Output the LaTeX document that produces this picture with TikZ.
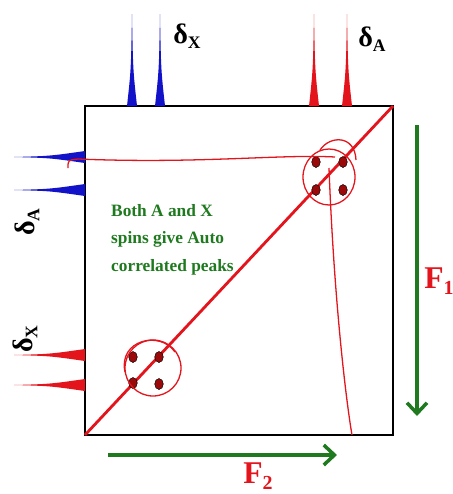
\documentclass[tikz,border=0pt]{standalone}
\usepackage{fontspec}
\setmainfont{Liberation Serif}
\usetikzlibrary{arrows.meta,positioning}
\definecolor{pkred}{HTML}{E3141C}
\definecolor{pkblue}{HTML}{1212C8}
\definecolor{pkgreen}{HTML}{1F7A1F}
\definecolor{dotred}{HTML}{9A0A0A}

\begin{document}
\begin{tikzpicture}[x=0.03cm,y=-0.03cm,
   frame/.style={line width=2.4pt,black},
   diag/.style={line width=2.4pt,pkred},
   sketch/.style={line width=1.1pt,pkred},
   lbl/.style={font=\bfseries\fontsize{24}{26}\selectfont,inner sep=0pt},
   flbl/.style={font=\bfseries\fontsize{27}{29}\selectfont,pkred,inner sep=0pt},
   note/.style={font=\bfseries\fontsize{14.8}{23.5}\selectfont,pkgreen,align=left,inner sep=0pt},
   ax/.style={-{Straight Barb[length=3.2mm,width=6mm,line width=3pt]},line width=3pt,pkgreen}]
  \useasboundingbox (0,0) rectangle (453,494);

  % spectrum box and diagonal
  \coordinate (tl) at (85,106);
  \coordinate (br) at (393,435);
  \coordinate (bl) at (85,435);
  \coordinate (tr) at (393,106);
  \draw[frame] (tl) rectangle (br);
  \draw[diag] (bl) -- (tr);

  % top 1D spectrum
  \foreach \x/\c in {132/pkblue,160/pkblue,314/pkred,347/pkred}
    \fill[\c] (\x-5,106) .. controls (\x-1,70) .. (\x,14) .. controls (\x+1,70) .. (\x+5,106) -- cycle;
  % left 1D spectrum
  \foreach \y/\c in {157/pkblue,190/pkblue,355/pkred,385/pkred}
    \fill[\c] (85,\y-6) .. controls (50,\y-1) .. (14,\y) .. controls (50,\y+1) .. (85,\y+6) -- cycle;

  \node[lbl] (dXtop) at (187,36) {δ\raisebox{-0.4ex}{\fontsize{15}{15}\selectfont X}};
  \node[lbl] (dAtop) at (372,39) {δ\raisebox{-0.4ex}{\fontsize{15}{15}\selectfont A}};
  \node[lbl,rotate=90] (dAleft) at (27,222) {δ\raisebox{-0.4ex}{\fontsize{15}{15}\selectfont A}};
  \node[lbl,rotate=90] (dXleft) at (25,339) {δ\raisebox{-0.4ex}{\fontsize{15}{15}\selectfont X}};

  % auto peaks
  \foreach \x/\y in {133/357,159/357,133/383,159/384,316/162,343/162,316/190,343/190}
    \filldraw[fill=dotred,draw=black,line width=0.4pt] (\x,\y) ellipse (4.3 and 5.5);
  \draw[sketch] (153,368) ellipse (28 and 28);
  \draw[sketch] (125,372) .. controls (118,340) and (160,330) .. (175,352);
  \draw[sketch] (329,177) ellipse (26 and 28);
  \draw[sketch] (320,150) .. controls (330,135) and (355,135) .. (356,160);

  % hand-drawn guide lines
  \draw[sketch] (68,168) .. controls (68,160) .. (78,159) .. controls (200,164) and (280,154) .. (335,157);
  \draw[sketch] (329,168) .. controls (334,300) and (346,400) .. (352,435);

  \node[note,anchor=north west] (txt) at (111,204) {Both A and X\\spins give Auto\\correlated peaks};

  % frequency axes
  \coordinate (f1top) at (417,125);
  \coordinate (f1bot) at (417,416);
  \draw[ax] (f1top) -- (f1bot);
  \node[flbl] (F1) at (439,281) {F\raisebox{-0.45ex}{\fontsize{17}{17}\selectfont 1}};
  \coordinate (f2left) at (108,455);
  \coordinate (f2right) at (337,455);
  \draw[ax] (f2left) -- (f2right);
  \node[flbl] (F2) at (258,476) {F\raisebox{-0.45ex}{\fontsize{17}{17}\selectfont 2}};
\end{tikzpicture}
\end{document}
